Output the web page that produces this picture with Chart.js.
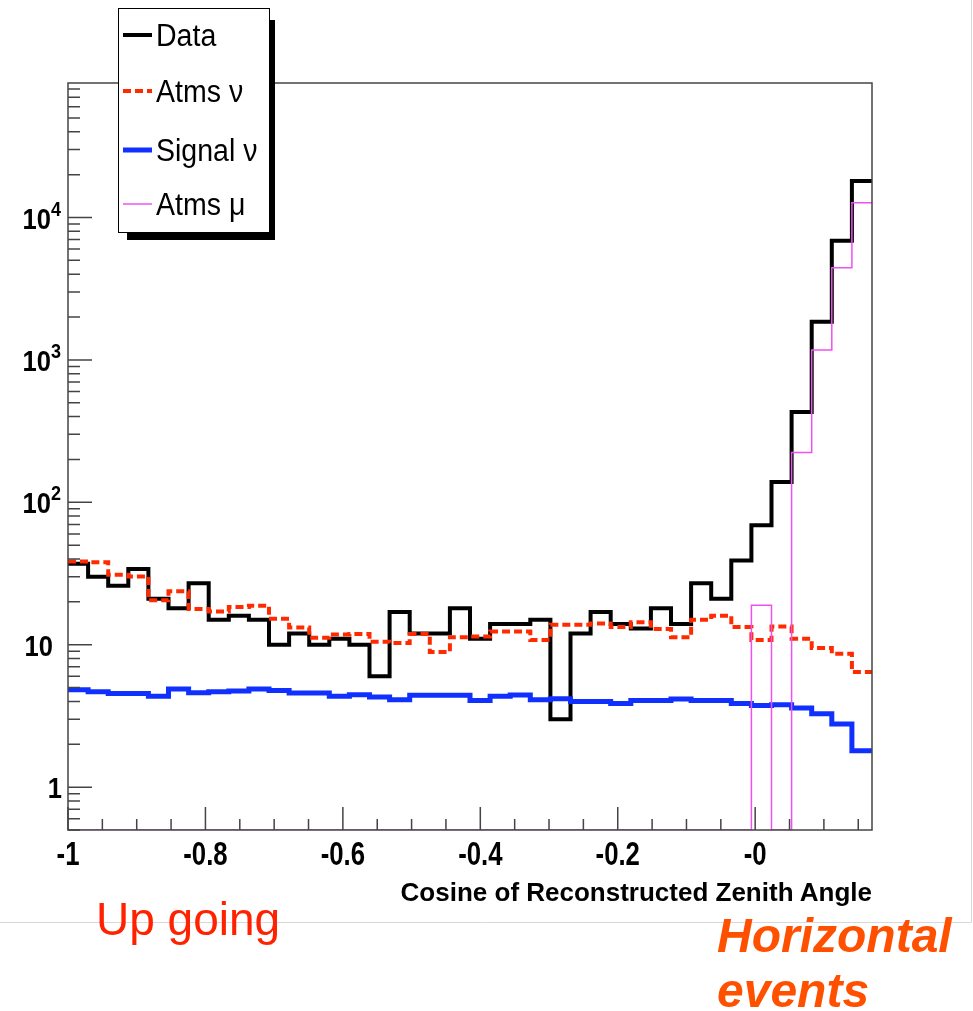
<!DOCTYPE html>
<html>
<head>
<meta charset="utf-8">
<title>Cosine of Reconstructed Zenith Angle</title>
<script src="https://cdn.jsdelivr.net/npm/chart.js@4.4.1/dist/chart.umd.min.js"></script>
<style>
  html, body { margin: 0; padding: 0; background: #fff; }
  #wrap { position: relative; width: 973px; height: 1011px; overflow: hidden; }
  #myGraph { position: absolute; left: 0; top: 0; }
  .note { position: absolute; white-space: nowrap; line-height: 1; }
  #xTitle { right: 101px; top: 877px; font: bold 26px 'Liberation Sans', Arial, sans-serif; color: #000; }
  #upGoing { left: 96px; top: 892px; font: 46px 'Liberation Sans', Arial, sans-serif; color: #ff2200; }
  #horizontal { left: 717px; top: 908px; line-height: 56px; font: italic bold 48px 'Liberation Sans', Arial, sans-serif; color: #ff5000; }
</style>
</head>
<body>
<div id="wrap">
  <canvas id="myGraph" width="973" height="1011"></canvas>
  <div class="note" id="xTitle">Cosine of Reconstructed Zenith Angle</div>
  <div class="note" id="upGoing">Up going</div>
  <div class="note" id="horizontal">Horizontal<br>events</div>
</div>
<script>
// 40 equal bins in cos(zenith) from -1 to 0.17
const xMin = -1;
const xMax = 0.17;
const yMin = 0.5;
const yMax = 88000;

const dataCounts = [37, 30, 26, 34, 21, 18, 27, 15, 16, 15,
                    10, 12, 10, 11, 10, 6, 17, 12, 12, 18,
                    11, 14, 14, 15, 3, 12, 17, 14, 13, 18,
                    14, 27, 21, 39, 69, 139, 430, 1857, 6874, 18030];
const atmsNu = [38.4, 38.0, 31.0, 30.1, 20.5, 23.7, 17.8, 17.1, 18.4, 18.8,
                15.2, 13.2, 11.2, 11.8, 11.9, 10.5, 10.3, 11.9, 8.9, 11.3,
                11.4, 12.4, 12.4, 10.8, 13.8, 13.8, 14.1, 13.3, 14.4, 12.9,
                11.3, 15.0, 16.0, 13.3, 10.8, 13.4, 11.0, 9.5, 8.65, 6.43];
const signalNu = [4.83, 4.68, 4.55, 4.55, 4.34, 4.89, 4.60, 4.68, 4.73, 4.89,
                  4.78, 4.58, 4.58, 4.34, 4.46, 4.30, 4.11, 4.41, 4.41, 4.41,
                  4.06, 4.34, 4.43, 4.11, 4.18, 4.00, 4.00, 3.87, 4.06, 4.06,
                  4.16, 4.06, 4.06, 3.87, 3.75, 3.79, 3.60, 3.28, 2.78, 1.80];
const atmsMu = [0, 0, 0, 0, 0, 0, 0, 0, 0, 0,
                0, 0, 0, 0, 0, 0, 0, 0, 0, 0,
                0, 0, 0, 0, 0, 0, 0, 0, 0, 0,
                0, 0, 0, 0, 18.9, 0, 224, 1175, 4443, 12700];

const xTickValues = [-1, -0.8, -0.6, -0.4, -0.2, 0];
const xTickLabels = ['-1', '-0.8', '-0.6', '-0.4', '-0.2', '-0'];
const yTickValues = [1, 10, 100, 1000, 10000];
const yTickBase = ['1', '10', '10', '10', '10'];
const yTickExp = ['', '', '2', '3', '4'];

// one point per bin low edge plus the upper edge, empty bins sit on the frame floor
function histPoints(counts) {
    const w = (xMax - xMin) / counts.length;
    let pts = counts.map((c, i) => ({ x: xMin + i * w, y: Math.max(c, yMin) }));
    pts.push({ x: xMax, y: Math.max(counts[counts.length - 1], yMin) });
    return pts;
}

function condensedText(ctx, text, x, y, sx, align) {
    ctx.save();
    ctx.translate(x, y);
    ctx.scale(sx, 1);
    ctx.textAlign = align;
    ctx.fillText(text, 0, 0);
    ctx.restore();
}

// frame, inward ROOT style ticks, axis labels, light canvas border
const framePlugin = {
    id: 'frame',
    afterDatasetsDraw(chart) {
        const ctx = chart.ctx;
        const a = chart.chartArea;
        const xs = chart.scales.x;
        const ys = chart.scales.y;
        ctx.save();
        ctx.strokeStyle = '#444';
        ctx.lineWidth = 1.5;
        ctx.strokeRect(a.left, a.top, a.right - a.left, a.bottom - a.top);

        ctx.beginPath();
        for (let j = 0; j * 0.05 <= xMax - xMin + 1e-9; j++) {
            const px = xs.getPixelForValue(xMin + j * 0.05);
            const len = (j % 4 === 0) ? 23 : 11;
            ctx.moveTo(px, a.bottom);
            ctx.lineTo(px, a.bottom - len);
        }
        for (let d = -1; d <= 4; d++) {
            for (let m = 1; m <= 9; m++) {
                const v = m * Math.pow(10, d);
                if (v < yMin || v > yMax) continue;
                const py = ys.getPixelForValue(v);
                const len = (m === 1) ? 24 : 12;
                ctx.moveTo(a.left, py);
                ctx.lineTo(a.left + len, py);
            }
        }
        ctx.stroke();

        // tick labels
        ctx.fillStyle = '#000';
        ctx.textBaseline = 'alphabetic';
        ctx.font = 'bold 33px "Liberation Sans", Arial, sans-serif';
        xTickValues.forEach((v, i) => {
            condensedText(ctx, xTickLabels[i], xs.getPixelForValue(v), a.bottom + 35, 0.78, 'center');
        });
        yTickValues.forEach((v, i) => {
            const py = ys.getPixelForValue(v);
            ctx.font = 'bold 29px "Liberation Sans", Arial, sans-serif';
            if (yTickExp[i]) {
                condensedText(ctx, yTickBase[i], 51, py + 11, 0.88, 'right');
                ctx.font = 'bold 20px "Liberation Sans", Arial, sans-serif';
                condensedText(ctx, yTickExp[i], 51, py - 2, 0.9, 'left');
            } else {
                condensedText(ctx, yTickBase[i], yTickBase[i].length > 1 ? 53 : 62, py + 11, 0.88, 'right');
            }
        });

        ctx.strokeStyle = '#d8d8d8';
        ctx.lineWidth = 1;
        ctx.beginPath();
        ctx.moveTo(971.5, 0);
        ctx.lineTo(971.5, 922.5);
        ctx.lineTo(0, 922.5);
        ctx.stroke();
        ctx.restore();
    }
};

// boxed legend with drop shadow
const legendPlugin = {
    id: 'boxLegend',
    afterDraw(chart) {
        const ctx = chart.ctx;
        const bx = 118.5, by = 8.5, bw = 151, bh = 224;
        const rows = [35, 91, 150, 204];
        ctx.save();
        ctx.fillStyle = '#000';
        ctx.fillRect(127, 20, 148, 220);
        ctx.fillStyle = '#fff';
        ctx.fillRect(bx, by, bw, bh);
        ctx.strokeStyle = '#000';
        ctx.lineWidth = 1;
        ctx.strokeRect(bx, by, bw, bh);
        ctx.font = '31px "Liberation Sans", Arial, sans-serif';
        ctx.textBaseline = 'middle';
        chart.data.datasets.forEach((ds, i) => {
            const y = rows[i];
            ctx.strokeStyle = ds.borderColor;
            ctx.lineWidth = ds.borderWidth;
            ctx.setLineDash(ds.borderDash || []);
            ctx.beginPath();
            ctx.moveTo(123, y);
            ctx.lineTo(152, y);
            ctx.stroke();
            ctx.setLineDash([]);
            ctx.fillStyle = '#000';
            condensedText(ctx, ds.label, 156, y + 2, 0.92, 'left');
        });
        ctx.restore();
    }
};

const ctx = document.getElementById('myGraph').getContext('2d');
let myChart = new Chart(ctx, {
    type: 'line',
    data: {
        datasets: [{
            label: 'Data',
            data: histPoints(dataCounts),
            borderColor: '#000000',
            borderWidth: 4,
            order: 4,
        }, {
            label: 'Atms ν',
            data: histPoints(atmsNu),
            borderColor: '#ff2a00',
            borderWidth: 4,
            borderDash: [8, 4],
            order: 3,
        }, {
            label: 'Signal ν',
            data: histPoints(signalNu),
            borderColor: '#1030ff',
            borderWidth: 5,
            order: 2,
        }, {
            label: 'Atms μ',
            data: histPoints(atmsMu),
            borderColor: '#f050f0',
            borderWidth: 1.5,
            order: 1,
        }]
    },
    options: {
        responsive: false,
        animation: false,
        devicePixelRatio: 1,
        datasets: {
            line: { stepped: true, pointRadius: 0, fill: false, borderCapStyle: 'butt', borderJoinStyle: 'miter' }
        },
        layout: { padding: { left: 0, top: 83, right: 101, bottom: 0 } },
        plugins: { legend: { display: false }, tooltip: { enabled: false } },
        scales: {
            x: {
                type: 'linear',
                min: xMin,
                max: xMax,
                afterBuildTicks: s => { s.ticks = xTickValues.map(v => ({ value: v })); },
                afterFit: s => { s.height = 181; },
                grid: { display: false, drawTicks: false },
                border: { display: false },
                ticks: { display: false }
            },
            y: {
                type: 'logarithmic',
                min: yMin,
                max: yMax,
                afterBuildTicks: s => { s.ticks = yTickValues.map(v => ({ value: v })); },
                afterFit: s => { s.width = 68; },
                grid: { display: false, drawTicks: false },
                border: { display: false },
                ticks: { display: false }
            }
        }
    },
    plugins: [framePlugin, legendPlugin]
});
</script>
</body>
</html>
